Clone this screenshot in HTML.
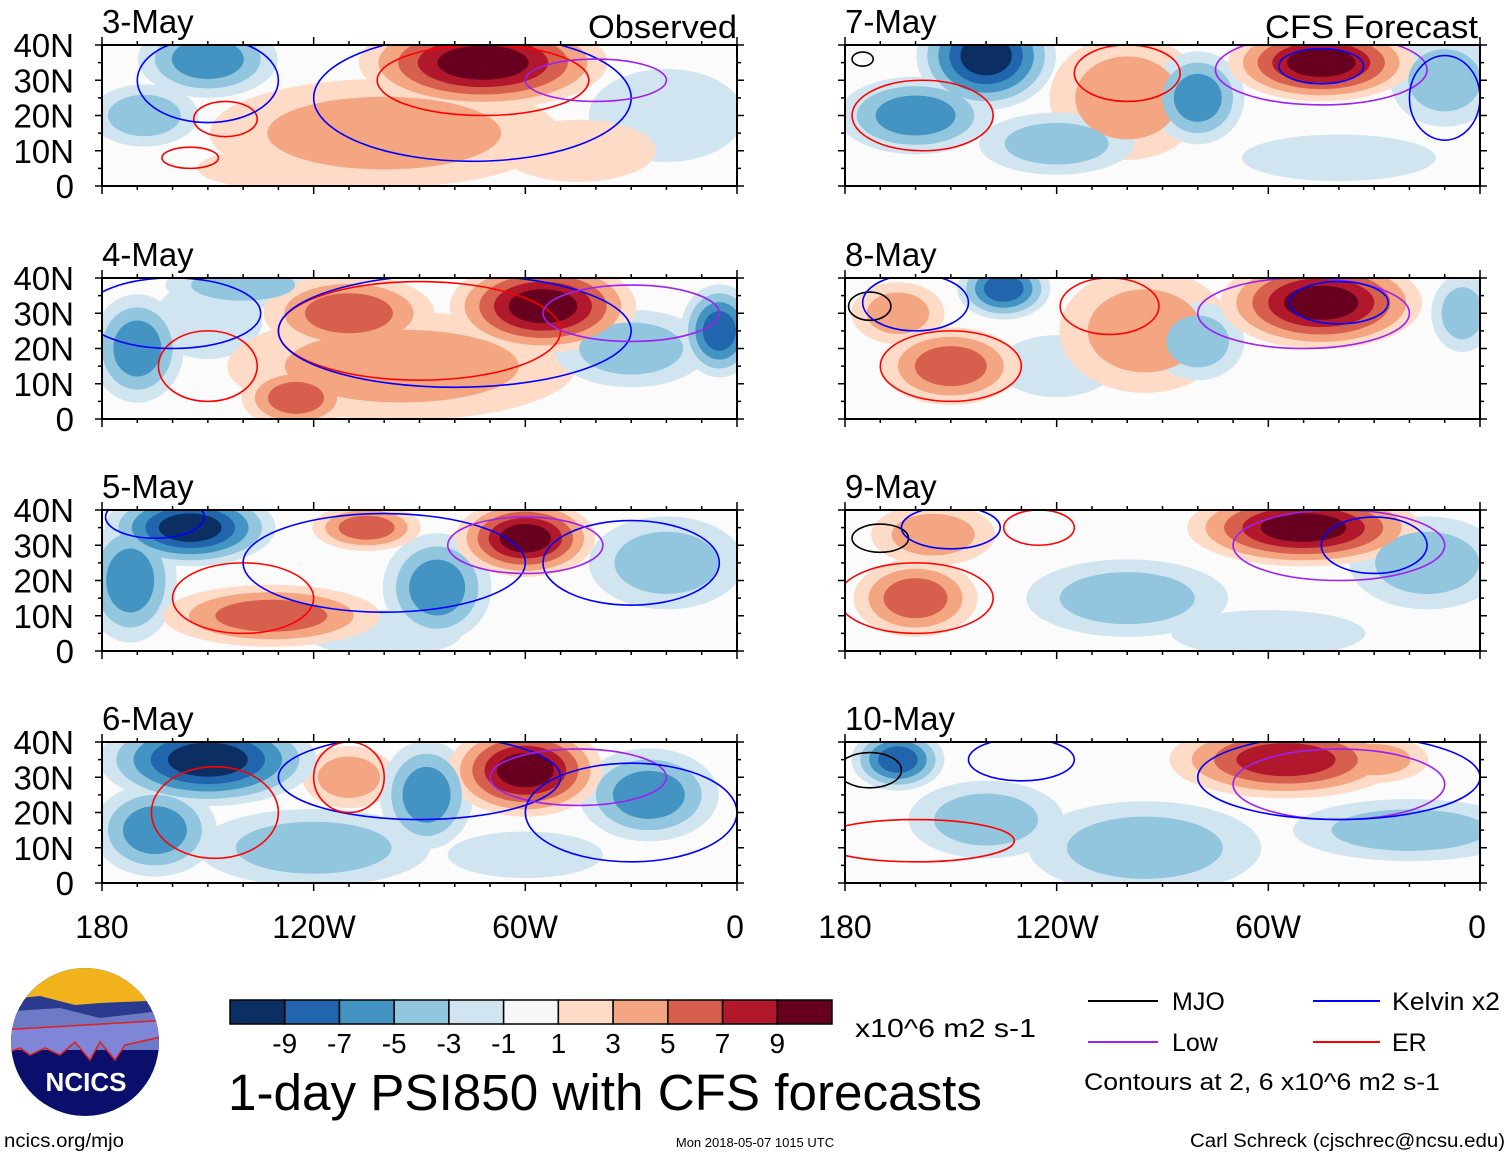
<!DOCTYPE html>
<html><head><meta charset="utf-8">
<style>
html,body{margin:0;padding:0;background:#fff;}
svg{display:block;font-family:"Liberation Sans",sans-serif;}
</style></head>
<body>
<svg id="chart" width="1510" height="1157" viewBox="0 0 1510 1157" xmlns="http://www.w3.org/2000/svg">
<g id="panels"></g>
<g font-size="32" text-anchor="middle">
<text x="102" y="938">180</text><text x="314" y="938">120W</text><text x="525" y="938">60W</text><text x="735" y="938">0</text>
</g>
<g font-size="32" text-anchor="middle">
<text x="845" y="938">180</text><text x="1057" y="938">120W</text><text x="1268" y="938">60W</text><text x="1477" y="938">0</text>
</g>
<text x="588" y="38" font-size="32" textLength="149" lengthAdjust="spacingAndGlyphs">Observed</text>
<text x="1265" y="38" font-size="32" textLength="213" lengthAdjust="spacingAndGlyphs">CFS Forecast</text>

<g>
<clipPath id="lc"><circle cx="85" cy="1042" r="74"/></clipPath>
<g clip-path="url(#lc)">
<rect x="0" y="960" width="170" height="170" fill="#0a0f6b"/>
<rect x="0" y="960" width="170" height="46" fill="#f2b21c"/>
<path d="M0 1000 L40 996 L75 1005 L100 1003 L170 1000 L170 1040 L0 1040Z" fill="#2a3a8f"/>
<path d="M0 1012 L60 1008 L100 1018 L170 1010 L170 1050 L0 1050Z" fill="#6f7ac6"/>
<path d="M0 1055 L20 1048 L30 1055 L45 1048 L60 1055 L75 1042 L90 1060 L100 1042 L115 1060 L125 1045 L170 1035 L170 1020 L0 1030Z" fill="#7f86d8" stroke="#e02020" stroke-width="1.5"/>
</g>
<text x="86" y="1091" font-size="26" font-weight="bold" fill="#fff" text-anchor="middle">NCICS</text>
</g>
<text x="4" y="1147" font-size="19" textLength="120" lengthAdjust="spacingAndGlyphs">ncics.org/mjo</text>

<g id="cbar"></g>
<text x="855" y="1037" font-size="26" textLength="181" lengthAdjust="spacingAndGlyphs">x10^6 m2 s-1</text>
<text x="228" y="1110" font-size="51" textLength="754" lengthAdjust="spacingAndGlyphs">1-day PSI850 with CFS forecasts</text>

<g font-size="25">
<line x1="1088" y1="1001" x2="1158" y2="1001" stroke="#000" stroke-width="2"/>
<text x="1172" y="1010">MJO</text>
<line x1="1313" y1="1001" x2="1380" y2="1001" stroke="#0000ff" stroke-width="2"/>
<text x="1392" y="1010" textLength="108" lengthAdjust="spacingAndGlyphs">Kelvin x2</text>
<line x1="1088" y1="1042" x2="1158" y2="1042" stroke="#a020f0" stroke-width="2"/>
<text x="1172" y="1051">Low</text>
<line x1="1313" y1="1042" x2="1380" y2="1042" stroke="#ff0000" stroke-width="2"/>
<text x="1392" y="1051">ER</text>
<text x="1084" y="1090" font-size="24" textLength="356" lengthAdjust="spacingAndGlyphs">Contours at 2, 6 x10^6 m2 s-1</text>
</g>
<text x="755" y="1147" font-size="13" text-anchor="middle">Mon 2018-05-07 1015 UTC</text>
<text x="1190" y="1147" font-size="19" textLength="315" lengthAdjust="spacingAndGlyphs">Carl Schreck (cjschrec@ncsu.edu)</text>
</svg>
<script>
const panelTitles = ["3-May","4-May","5-May","6-May","7-May","8-May","9-May","10-May"];
// blobs: [lon, lat, rxDeg, ryDeg, peak]
const blobs0 = [[-100,15,45,14,3],[-72,35,32,12,9],[-150,36,18,10,-5],[-168,20,14,8,-3],[-20,20,20,12,-2],[-120,5,30,6,2],[-45,10,20,8,2]];
const blobs1 = [[-95,15,45,14,3],[-55,32,24,12,9],[-110,30,22,10,5],[-125,6,14,8,5],[-170,20,12,14,-5],[-5,25,10,12,-7],[-140,38,20,6,-3],[-30,20,20,10,-3],[-150,28,14,10,-2]];
const blobs2 = [[-155,35,22,10,-9],[-172,20,12,16,-5],[-60,32,18,10,9],[-132,10,28,8,5],[-85,18,14,14,-5],[-105,35,14,6,5],[-20,25,20,12,-3],[-100,5,20,6,-2]];
const blobs3 = [[-150,35,28,12,-9],[-60,32,20,12,9],[-165,15,16,12,-5],[-88,25,12,14,-5],[-25,25,18,12,-5],[-110,30,12,8,3],[-120,10,30,10,-3],[-60,8,20,6,-2]];
const blobs4 = [[-140,37,18,14,-9],[-45,35,24,10,9],[-160,20,20,10,-5],[-100,25,20,16,3],[-80,25,12,12,-5],[-10,30,14,12,-3],[-120,12,20,8,-3],[-40,8,25,6,-2]];
const blobs5 = [[-45,33,26,12,9],[-135,37,12,8,-7],[-165,30,12,8,3],[-150,15,18,10,5],[-95,25,22,16,3],[-80,22,12,10,-3],[-5,30,8,10,-3],[-120,15,15,8,-2]];
const blobs6 = [[-50,35,30,10,9],[-160,15,16,10,5],[-100,15,26,10,-3],[-155,33,16,8,3],[-15,25,20,12,-3],[-60,5,25,6,-2]];
const blobs7 = [[-55,35,30,10,7],[-165,35,12,8,-7],[-95,10,30,12,-3],[-140,18,20,10,-3],[-20,15,30,8,-3],[-30,35,14,6,3]];
const allBlobs = [blobs0,blobs1,blobs2,blobs3,blobs4,blobs5,blobs6,blobs7];
// contours: [type, lon, lat, rxDeg, ryDeg]
const cont0 = [["er",-72,30,30,10],["kel",-75,25,45,18],["er",-145,19,9,5],["er",-155,8,8,3],["kel",-150,30,20,12],["low",-40,30,20,6]];
const cont1 = [["er",-90,25,40,14],["kel",-80,25,50,16],["er",-150,15,14,10],["kel",-160,30,25,10],["low",-30,30,25,8]];
const cont2 = [["er",-140,15,20,10],["kel",-100,25,40,14],["kel",-30,25,25,12],["low",-60,30,22,8],["kel",-165,38,14,6]];
const cont3 = [["er",-148,20,18,13],["kel",-90,30,40,12],["low",-45,30,25,8],["kel",-30,20,30,14],["er",-110,30,10,10]];
const cont4 = [["er",-158,20,20,10],["low",-45,33,30,10],["kel",-45,34,12,5],["er",-100,32,15,8],["kel",-10,25,10,12],["mjo",-175,36,3,2]];
const cont5 = [["er",-150,15,20,10],["mjo",-173,32,6,4],["kel",-160,33,15,8],["low",-50,30,30,10],["kel",-40,33,14,6],["er",-105,32,14,8]];
const cont6 = [["er",-160,15,22,10],["mjo",-170,32,8,4],["kel",-150,35,14,6],["low",-40,30,30,10],["kel",-30,30,15,8],["er",-125,35,10,5]];
const cont7 = [["er",-160,12,28,6],["mjo",-173,32,9,5],["kel",-130,35,15,6],["low",-40,28,30,10],["kel",-40,30,40,12]];
const allConts = [cont0,cont1,cont2,cont3,cont4,cont5,cont6,cont7];
const cbLevels = [-9,-7,-5,-3,-1,1,3,5,7,9];
const cbColors = ["#0c2f63","#2166ac","#4393c3","#92c5de","#d1e5f0","#f7f7f7","#fddbc7","#f4a582","#d6604d","#b2182b","#67001f"];
const latTicks = [40,30,20,10,0];
const contColors = {er:"#ff0000",kel:"#0000ff",low:"#a020f0",mjo:"#000000"};

const NS="http://www.w3.org/2000/svg";
const W=635,H=141;
const origins=[[102,45],[102,278],[102,510],[102,742],[845,45],[845,278],[845,510],[845,742]];
function mk(t,a,p){const e=document.createElementNS(NS,t);for(const k in a)e.setAttribute(k,a[k]);p.appendChild(e);return e;}
const root=document.getElementById('panels');
origins.forEach((o,i)=>{
  const x0=o[0],y0=o[1];
  const xs=lon=>x0+(lon+180)/180*W;
  const ys=lat=>y0+H-lat/40*H;
  const g=mk('g',{},root);
  
  
  const cp=mk('clipPath',{id:'cp'+i},g);
  mk('rect',{x:x0,y:y0,width:W,height:H},cp);
  const f=mk('g',{'clip-path':'url(#cp'+i+')'},g);
  mk('rect',{x:x0,y:y0,width:W,height:H,fill:'#fbfbfb'},f);
  const sorted=allBlobs[i].slice().sort((a,b)=>Math.abs(a[4])-Math.abs(b[4]));
  for(let lvl=0;lvl<5;lvl++){
    sorted.forEach(b=>{
      const p=Math.abs(b[4]);const t=[1,3,5,7,9][lvl];
      if(p<t) return;
      const s=1.1-(t-1)/(p+2.5);
      const ci=b[4]>0?6+lvl:4-lvl;
      const e=mk('ellipse',{cx:xs(b[0]),cy:ys(b[1]),rx:b[2]*s/180*W,ry:b[3]*s/40*H,fill:cbColors[ci]},f);
      
      
    });
  }
  allConts[i].forEach(c=>{
    const e=mk('ellipse',{cx:xs(c[1]),cy:ys(c[2]),rx:c[3]/180*W,ry:c[4]/40*H,fill:'none',stroke:contColors[c[0]],'stroke-width':1.6},f);
    
    
  });
  mk('rect',{x:x0,y:y0,width:W,height:H,fill:'none',stroke:'#000','stroke-width':2},g);
  for(let lon=-180;lon<=0;lon+=10){const X=xs(lon);const L=lon%60==0?8:4;
    mk('line',{x1:X,y1:y0+H,x2:X,y2:y0+H+L,stroke:'#000','stroke-width':1.5},g);
    mk('line',{x1:X,y1:y0,x2:X,y2:y0-L,stroke:'#000','stroke-width':1.5},g);}
  for(let lat=0;lat<=40;lat+=5){const Y=ys(lat);const L=lat%10==0?7:4;
    mk('line',{x1:x0-L,y1:Y,x2:x0,y2:Y,stroke:'#000','stroke-width':1.5},g);
    mk('line',{x1:x0+W,y1:Y,x2:x0+W+L,y2:Y,stroke:'#000','stroke-width':1.5},g);}
  if(i<4){latTicks.forEach(l=>{
    const t=mk('text',{x:74,y:ys(l)+12,'font-size':33,'text-anchor':'end'},g);
    
    
    t.textContent=l===0?'0':l+'N';});}
  const tt=mk('text',{x:x0,y:y0-12,'font-size':33},g);
  
  
  tt.textContent=panelTitles[i];
});
const cb=document.getElementById('cbar');
const bw=(832-230)/11;
cbColors.forEach((c,k)=>{
  const r=mk('rect',{x:230+k*bw,y:1000,width:bw,height:24,fill:c,stroke:'#000','stroke-width':1.5},cb);
  
  
});
cbLevels.forEach((v,k)=>{
  const t=mk('text',{x:230+(k+1)*bw,y:1053,'font-size':28,'text-anchor':'middle'},cb);
  
  
  t.textContent=v;
});
</script>
</body></html>
